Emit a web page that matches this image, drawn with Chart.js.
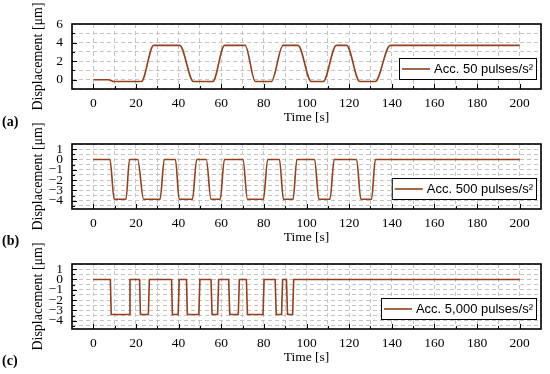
<!DOCTYPE html>
<html>
<head>
<meta charset="utf-8">
<script src="https://cdn.jsdelivr.net/npm/chart.js@4.4.1/dist/chart.umd.min.js"></script>
<style>
  body { margin: 0; background: #fff; }
  #wrap { position: relative; width: 550px; height: 374px; overflow: hidden; }
  canvas { position: absolute; left: 0; }
  .tag { position: absolute; left: 2px; font: bold 14px "Liberation Serif", serif; color: #000; }
</style>
</head>
<body>
<div id="wrap">
  <canvas id="chartA" width="550" height="134" style="top:0"></canvas>
  <canvas id="chartB" width="550" height="134" style="top:120px"></canvas>
  <canvas id="chartC" width="550" height="134" style="top:240px"></canvas>
  <div class="tag" style="top:114px">(a)</div>
  <div class="tag" style="top:233px">(b)</div>
  <div class="tag" style="top:353px">(c)</div>
</div>
<script>
// DATA (time in s, displacement in um)

var timeA = [0, 7, 10, 22.5, 28.3, 40.5, 47, 56, 61.6, 71.2, 76, 83.5, 89, 96, 102.3, 107.8, 114, 118.8, 125, 132.2, 139.3, 200];
var dispA = [0, 0, -0.2, -0.2, 3.7, 3.7, -0.2, -0.2, 3.7, 3.7, -0.2, -0.2, 3.7, 3.7, -0.2, -0.2, 3.7, 3.7, -0.2, -0.2, 3.7, 3.7];

var timeB = [0, 7.8, 9.8, 15.3, 17, 20.8, 23.6, 31.3, 33.3, 38.5, 40.3, 46.5, 48.5, 53, 55.2, 59.5, 61.5, 70.2, 72.3, 79.8, 81.8, 87.3, 89.2, 93.7, 95.5, 103.8, 105.8, 111, 113, 123.5, 125.5, 130.5, 132.3, 200];
var dispB = [0, 0, -3.85, -3.85, 0, 0, -3.85, -3.85, 0, 0, -3.85, -3.85, 0, 0, -3.85, -3.85, 0, 0, -3.85, -3.85, 0, 0, -3.85, -3.85, 0, 0, -3.85, -3.85, 0, 0, -3.85, -3.85, 0, 0];

var timeC = [0, 8, 8.4, 16.8, 17.2, 21.7, 22.1, 25.8, 26.3, 36.7, 37.1, 39.8, 40.3, 43.7, 44.1, 49.5, 50, 55.2, 55.7, 58.3, 58.8, 63.5, 64, 68, 68.5, 71.8, 72.3, 79.6, 80.1, 85.3, 85.8, 88.3, 88.8, 90.6, 91.1, 93.5, 94, 200];
var dispC = [0, 0, -3.4, -3.4, 0, 0, -3.4, -3.4, 0, 0, -3.4, -3.4, 0, 0, -3.4, -3.4, 0, 0, -3.4, -3.4, 0, 0, -3.4, -3.4, 0, 0, -3.4, -3.4, 0, 0, -3.4, -3.4, 0, 0, -3.4, -3.4, 0, 0];

var labelA = 'Acc. 50 pulses/s\u00B2';
var labelB = 'Acc. 500 pulses/s\u00B2';
var labelC = 'Acc. 5,000 pulses/s\u00B2';

var xTickLabels = [0, 20, 40, 60, 80, 100, 120, 140, 160, 180, 200];

var lineColor = '#93401c';
var gridColor = '#c4c4c4';
var serif = '"Liberation Serif", "Times New Roman", serif';

// BOX, INWARD TICKS AND LEGEND
function makeFrame(yMajor) {
  return {
    id: 'frame',
    afterDraw: function (chart) {
      var ctx = chart.ctx, a = chart.chartArea;
      var x = chart.scales.x, y = chart.scales.y;
      ctx.save();
      ctx.strokeStyle = '#000';
      ctx.lineWidth = 1;
      ctx.beginPath();
      x.ticks.forEach(function (t) {
        if (t.value <= x.min || t.value >= x.max) return;
        var px = Math.round(x.getPixelForValue(t.value)) + 0.5;
        var len = xTickLabels.indexOf(t.value) >= 0 ? 5 : 3;
        ctx.moveTo(px, a.bottom);
        ctx.lineTo(px, a.bottom - len);
      });
      y.ticks.forEach(function (t) {
        if (t.value <= y.min || t.value >= y.max) return;
        var py = Math.round(y.getPixelForValue(t.value)) + 0.5;
        var len = yMajor(t.value) ? 5 : 3;
        ctx.moveTo(a.left, py);
        ctx.lineTo(a.left + len, py);
      });
      ctx.stroke();

      ctx.lineWidth = 1.6;
      ctx.strokeRect(a.left, a.top, a.right - a.left, a.bottom - a.top);

      // legend
      var ds = chart.data.datasets[0];
      ctx.font = '13px "Liberation Sans", Arial, sans-serif';
      var w = ctx.measureText(ds.label).width;
      var boxRight = a.right - 5;
      var textLeft = boxRight - 3 - w;
      var lineEnd = textLeft - 4;
      var lineStart = lineEnd - 28;
      var boxLeft = lineStart - 3;
      var boxTop = a.top + 34, boxH = 21;
      ctx.fillStyle = '#fff';
      ctx.fillRect(boxLeft, boxTop, boxRight - boxLeft, boxH);
      ctx.strokeStyle = '#000';
      ctx.lineWidth = 1;
      ctx.strokeRect(boxLeft + 0.5, boxTop + 0.5, boxRight - boxLeft, boxH);
      ctx.strokeStyle = lineColor;
      ctx.lineWidth = 1.6;
      ctx.beginPath();
      ctx.moveTo(lineStart, boxTop + boxH / 2 + 0.5);
      ctx.lineTo(lineEnd, boxTop + boxH / 2 + 0.5);
      ctx.stroke();
      ctx.fillStyle = '#000';
      ctx.textBaseline = 'middle';
      ctx.fillText(ds.label, textLeft, boxTop + boxH / 2 + 1);
      ctx.restore();
    }
  };
}

function fmt(v) {
  return v < 0 ? '\u2212' + Math.abs(v) : '' + v;
}

function makePanel(id, times, disps, label, yMin, yMax, yStep, yMajor, smooth) {
  var pts = times.map(function (t, i) { return { x: t, y: disps[i] }; });
  return new Chart(id, {
    type: 'line',
    data: {
      datasets: [{
        label: label,
        data: pts,
        borderColor: lineColor,
        borderWidth: 1.6,
        pointRadius: 0,
        fill: false,
        tension: 0,
        cubicInterpolationMode: smooth ? 'monotone' : 'default'
      }]
    },
    options: {
      responsive: false,
      animation: false,
      devicePixelRatio: 1,
      layout: { padding: { top: 24, right: 9, left: 0, bottom: 0 } },
      plugins: {
        legend: { display: false },
        tooltip: { enabled: false }
      },
      scales: {
        x: {
          type: 'linear',
          min: -10,
          max: 210,
          ticks: {
            stepSize: 10,
            autoSkip: false,
            maxRotation: 0,
            padding: 6,
            color: '#000',
            font: { family: serif, size: 13.5 },
            callback: function (v) { return xTickLabels.indexOf(v) >= 0 ? '' + v : ''; }
          },
          grid: { color: gridColor, drawTicks: false },
          border: { display: false, dash: [4, 3] },
          title: {
            display: true,
            text: 'Time [s]',
            color: '#000',
            font: { family: serif, size: 13.5 },
            padding: { top: 0, bottom: 8 }
          },
          afterFit: function (s) { s.height = 45; }
        },
        y: {
          type: 'linear',
          min: yMin,
          max: yMax,
          ticks: {
            stepSize: yStep,
            includeBounds: false,
            autoSkip: false,
            padding: 9,
            color: '#000',
            font: { family: serif, size: 13.5 },
            callback: function (v) { return yMajor(v) ? fmt(Math.round(v)) : ''; }
          },
          grid: { color: gridColor, drawTicks: false },
          border: { display: false, dash: [4, 3] },
          title: {
            display: true,
            text: 'Displacement [\u03BCm]',
            color: '#000',
            font: { family: serif, size: 14 },
            padding: { top: 30, bottom: 0 }
          },
          afterFit: function (s) { s.width = 72; }
        }
      }
    },
    plugins: [makeFrame(yMajor)]
  });
}

var evenMajor = function (v) { return v >= 0 && Math.abs(v % 2) < 1e-6; };
var intMajor = function (v) { return Math.abs(v - Math.round(v)) < 1e-6; };

const chartA = makePanel('chartA', timeA, dispA, labelA, -1, 6, 1, evenMajor, true);
const chartB = makePanel('chartB', timeB, dispB, labelB, -4.8, 1.5, 0.5, intMajor, true);
const chartC = makePanel('chartC', timeC, dispC, labelC, -4.8, 1.5, 0.5, intMajor, false);
</script>
</body>
</html>
